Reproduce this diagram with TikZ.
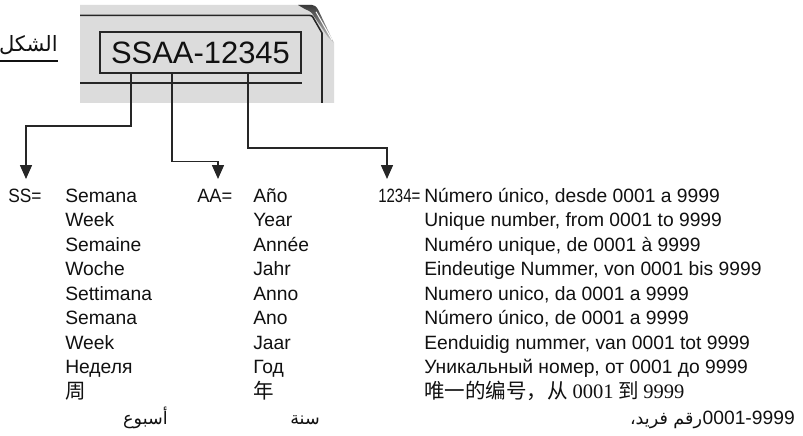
\documentclass[tikz,border=0pt]{standalone}
\usepackage{fontspec}
\usepackage{xcolor}
\usepackage{graphicx}
\usepackage{tikz}
\usetikzlibrary{arrows.meta}
\setmainfont{Liberation Sans}
\newfontfamily\arabicfont[Script=Arabic]{DejaVu Sans}
\newfontfamily\cjk{Noto Sans CJK SC}
\newfontfamily\serifnum{Liberation Serif}
\TeXXeTstate=1
\definecolor{PlateGrey}{HTML}{DCDCDC}
\definecolor{PlateLine}{HTML}{262626}
\definecolor{FoldDark}{HTML}{3A3A3A}
\definecolor{FoldLight}{HTML}{C8C8C8}
\definecolor{TextBlack}{HTML}{111111}

\begin{document}
\begin{tikzpicture}[x=1cm,y=1cm,
  word/.style={anchor=base west,inner sep=0pt,text=TextBlack,font=\fontsize{13.7}{16}\selectfont},
  zhword/.style={word,font=\cjk\fontsize{14.6}{17}\selectfont},
  arword/.style={anchor=base east,inner sep=0pt,text=TextBlack,font=\arabicfont\fontsize{12.5}{15}\selectfont},
  conn/.style={PlateLine,line width=1.1pt,-{Triangle[length=0.35cm,width=0.30cm]}}]
\path[use as bounding box] (0,0) rectangle (20.075,10.875);
\fill[white] (0,0) rectangle (20.075,10.875);
% plate with folded corner
\fill[PlateGrey] (2.00,10.75) -- (7.80,10.75) -- (8.35,9.80) -- (8.35,8.30) -- (2.00,8.30) -- cycle;
\shade[top color=FoldDark,bottom color=FoldLight] (7.45,10.75) -- (7.80,10.75) .. controls (7.90,10.72) .. (7.96,10.62) -- (8.35,9.80) -- (8.20,9.95) -- (7.86,10.45) .. controls (7.78,10.58) .. (7.62,10.65) -- cycle;
\draw[white,line width=.7pt] (7.90,10.58) -- (8.30,9.88);
\draw[PlateLine,line width=1.1pt] (2.00,10.49) -- (7.68,10.49) .. controls (7.80,10.49) .. (7.86,10.38) -- (8.05,10.05) -- (8.05,8.30);
\draw[PlateLine,line width=1.1pt] (2.00,8.80) -- (7.55,8.80);
\node[draw=PlateLine,line width=1.1pt,minimum width=5.025cm,minimum height=1.025cm,inner sep=0pt,text=TextBlack,font=\fontsize{22}{26}\selectfont] (code) at (5.0125,9.5625) {SSAA-12345};
% title
\node[anchor=base east,inner sep=0pt,text=TextBlack,font=\arabicfont\fontsize{15}{18}\selectfont] (title) at (1.45,9.575) {\beginR الشكل\endR};
\draw[TextBlack,line width=.8pt] ([yshift=-0.225cm]title.base west) -- ([yshift=-0.225cm]title.base east);
% labels
\node[word] (ssLbl) at (0.20,5.825) {\scalebox{0.9}[1]{SS=}};
\node[word] (aaLbl) at (4.925,5.825) {\scalebox{0.95}[1]{AA=}};
\node[word] (numLbl) at (9.45,5.825) {\scalebox{0.78}[1]{1234=}};
\coordinate (ssTip) at (0.65,6.40);
\coordinate (aaTip) at (5.45,6.40);
\coordinate (numTip) at (9.675,6.40);
\draw[conn] ([xshift=0.80cm]code.south west) -- ++(0,-1.30) -| (ssTip);
\draw[conn] ([xshift=1.825cm]code.south west) -- ++(0,-2.19) -| (aaTip);
\draw[conn] ([xshift=3.725cm]code.south west) -- ++(0,-1.85) -| (numTip);
% week
\node[word] (wkEs) at (1.625,5.825) {Semana};
\node[word] (wkEn) at (1.625,5.2125) {Week};
\node[word] (wkFr) at (1.625,4.600) {Semaine};
\node[word] (wkDe) at (1.625,3.9875) {Woche};
\node[word] (wkIt) at (1.625,3.375) {Settimana};
\node[word] (wkPt) at (1.625,2.7625) {Semana};
\node[word] (wkNl) at (1.625,2.150) {Week};
\node[word] (wkRu) at (1.625,1.5375) {Неделя};
\node[zhword] (wkZh) at (1.625,0.925) {周};
\node[arword] (wkAr) at (4.20,0.275) {\beginR أسبوع\endR};
% year
\node[word] (yrEs) at (6.325,5.825) {Año};
\node[word] (yrEn) at (6.325,5.2125) {Year};
\node[word] (yrFr) at (6.325,4.600) {Année};
\node[word] (yrDe) at (6.325,3.9875) {Jahr};
\node[word] (yrIt) at (6.325,3.375) {Anno};
\node[word] (yrPt) at (6.325,2.7625) {Ano};
\node[word] (yrNl) at (6.325,2.150) {Jaar};
\node[word] (yrRu) at (6.325,1.5375) {Год};
\node[zhword] (yrZh) at (6.325,0.925) {年};
\node[arword] (yrAr) at (8.00,0.275) {\beginR سنة\endR};
% number
\node[word] (nrEs) at (10.60,5.825) {Número único, desde 0001 a 9999};
\node[word] (nrEn) at (10.60,5.2125) {Unique number, from 0001 to 9999};
\node[word] (nrFr) at (10.60,4.600) {Numéro unique, de 0001 à 9999};
\node[word] (nrDe) at (10.60,3.9875) {Eindeutige Nummer, von 0001 bis 9999};
\node[word] (nrIt) at (10.60,3.375) {Numero unico, da 0001 a 9999};
\node[word] (nrPt) at (10.60,2.7625) {Número único, de 0001 a 9999};
\node[word] (nrNl) at (10.60,2.150) {Eenduidig nummer, van 0001 tot 9999};
\node[word] (nrRu) at (10.60,1.5375) {Уникальный номер, от 0001 до 9999};
\node[zhword] (nrZh) at (10.60,0.925) {唯一的编号，从 {\serifnum 0001} 到 {\serifnum 9999}};
\node[word,anchor=base east] (nrArNum) at (19.875,0.275) {0001-9999};
\node[arword] (nrAr) at (nrArNum.base west) {\beginR رقم فريد،\endR};
\end{tikzpicture}
\end{document}
